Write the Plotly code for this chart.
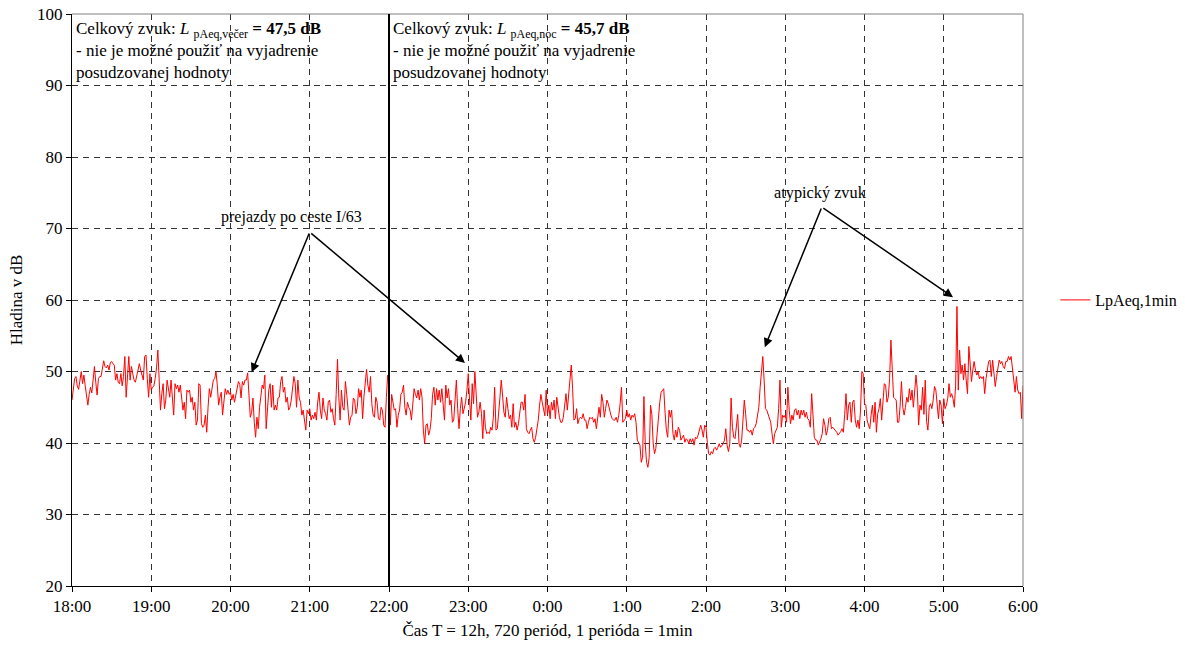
import numpy as np
import plotly.graph_objects as go

# LpAeq,1min values (dB), one per minute from 18:00 to 6:00, split into time ranges
lpaeq_1800_1912 = [
    46, 48, 49, 49.3, 48, 47.5, 48.5, 50, 48.3, 49.5,
    48, 46.5, 45.3, 46.8, 47.8, 47, 49.5, 50.7, 48.5, 46.7,
    49, 49.3, 49.3, 50.4, 51.5, 50.7, 50.5, 50.9, 50.2, 51.2,
    51.4, 51.1, 50.9, 48.8, 49.7, 48.5, 48.3, 49.7, 48, 49.3,
    52.1, 46.4, 50, 52.1, 48.8, 50.7, 49.7, 48.8, 48.5, 49.3,
    50, 51.1, 50.2, 49.5, 48.8, 52.1, 52.3, 49, 46.4, 49.7,
    47.4, 47.8, 48, 49, 50.5, 53, 48, 44.6, 46.9, 48.3,
    44.8, 46, 48.8]
lpaeq_1913_2021 = [
    47.6, 46.4, 48.8, 46, 43.9, 48.3, 47.6, 48.1, 47.1, 48.1,
    46, 44.6, 45.7, 43.4, 47.4, 47.1, 47.4, 45.7, 46.4, 44.6,
    45.7, 42.5, 43.2, 48.3, 48.1, 42.7, 42.2, 42.5, 43.9, 41.5,
    45, 47.6, 46.4, 48, 48.8, 49, 50, 48.1, 45.3, 46.4,
    47.1, 43.9, 46, 47.6, 46.8, 47.4, 46.8, 47.1, 46, 46.8,
    45.7, 46.8, 47.8, 48.6, 48.2, 46.3, 48.6, 48.1, 48.8, 48.8,
    49.8, 46, 43.6, 44.3, 46.3, 42.9, 40.8, 43.6, 42]
lpaeq_2022_2136 = [
    45, 46.4, 48.1, 47.6, 49.5, 42, 45.7, 47.4, 48.3, 45,
    48.1, 44.6, 45.3, 44.6, 46.3, 46.4, 48.6, 49.3, 47.1, 47.8,
    45.7, 46.4, 44.6, 45, 46, 47.4, 49.3, 48.3, 45, 48.8,
    46.3, 45.7, 43.9, 44.6, 43.4, 41.8, 44.6, 44.1, 44.8, 43.2,
    43.9, 43.4, 44.3, 43.2, 45.7, 47.1, 44.6, 43.4, 46.3, 44.6,
    44.1, 43.2, 45.7, 46, 44.3, 44.8, 43.4, 42.5, 46.8, 51.7,
    46.4, 43.2, 47.4, 45, 44.6, 48.6, 46.8, 45, 42.5, 43.6,
    43.9, 46.3, 46, 44.1, 45]
lpaeq_2137_2248 = [
    47.6, 46.4, 47.4, 43.4, 46.4, 48.8, 50.3, 48.1, 47.1, 49.3,
    45.5, 43.9, 43.6, 46.4, 45.7, 43.4, 43.2, 45, 44.6, 42.5,
    42.2, 46.4, 49.5, 47.6, 42.5, 46.8, 45.5, 44.6, 44.8, 42.2,
    43.9, 44.6, 46.8, 47.1, 48.1, 45, 43.9, 45.7, 45, 44.6,
    43.2, 45.7, 47.6, 46.8, 46.3, 47.4, 46, 47.6, 46.4, 41.8,
    39.9, 42.5, 42.7, 41.1, 41.8, 43.4, 46.8, 47.8, 45.3, 47.6,
    46, 47.4, 45.7, 47.6, 45, 43.2, 48.1, 46.3, 47.6, 45.3,
    46, 42.9]
lpaeq_2249_2359 = [
    43.2, 47.1, 48.8, 44.8, 42, 44.8, 46.4, 44.1, 44.8, 45.7,
    47.4, 49.7, 46, 43.2, 48.3, 45.5, 50, 47.4, 43.6, 44.3,
    45.7, 44.1, 40.6, 44.6, 42.2, 41.3, 41.5, 41.3, 42.2, 41.8,
    43.6, 47.8, 41.8, 42, 43.9, 46.4, 48.8, 45.7, 44.3, 43.6,
    46.4, 44.8, 43.4, 43.9, 42.2, 45.5, 42.2, 42.9, 41.8, 42.7,
    44.6, 45.7, 45.7, 44.6, 46.8, 42, 41.5, 41.3, 41.8, 42.2,
    40.6, 40.1, 40.8, 41.8, 43.2, 45.3, 46.8, 45.7, 44.6, 43.8,
    47.4]
lpaeq_0000_0112 = [
    44, 45.3, 43.4, 45.7, 44.6, 46, 43.4, 46.4, 44.8, 43.6,
    42.9, 42.9, 43.6, 45, 46.9, 44.6, 47.1, 49.7, 50.9, 47.6,
    43.2, 43.4, 44.8, 42.7, 43.4, 43.6, 43.4, 44.1, 43.2, 43.2,
    42, 42.9, 43.6, 43.4, 43.6, 42.9, 43.4, 42, 43.9, 45,
    43.6, 46.8, 45.7, 43.6, 44.8, 46, 45.5, 44.6, 43.9, 43.4,
    43.2, 43.2, 43.6, 42.9, 43.9, 45.5, 47.8, 42.9, 43.2, 43.4,
    44.6, 43.6, 44.1, 43.2, 43.9, 43.6, 44.1, 42.9, 40.4, 39.9,
    39.7, 37.3, 38]
lpaeq_0113_0224 = [
    46.5, 39.9, 37.3, 36.6, 38, 45.3, 44, 40, 38.5, 39.2,
    41.3, 43.9, 45.7, 47.1, 47.4, 47.6, 44.3, 41.8, 40.8, 44.6,
    43.6, 44.6, 41.3, 40.4, 41.8, 40.8, 42.2, 41.8, 40.4, 40.8,
    41.1, 40.1, 40.6, 40.4, 39.9, 40.6, 40.1, 40.6, 39.7, 40.8,
    40.6, 41.1, 41.8, 42.5, 41.8, 40.8, 42.5, 42.2, 40.1, 38.5,
    38.3, 38.8, 38.5, 39.2, 39.4, 39, 39.4, 39.9, 39.4, 39.7,
    39.9, 40.4, 42, 39.7, 38.8, 39.9, 46.3, 42.2, 40.8, 40.6,
    42, 44]
lpaeq_0225_0336 = [
    39.9, 39.4, 40.4, 43, 46, 44.1, 41.8, 41.8, 41.5, 41.8,
    41.1, 42, 42.2, 42.7, 43.6, 45, 47.8, 50.2, 52.1, 48.8,
    44.8, 44.6, 43.9, 43.6, 42.9, 41.3, 39.9, 41.3, 41.8, 42.2,
    44.8, 48.8, 42.2, 43.9, 43.6, 43.9, 42.9, 47.8, 44.6, 42.7,
    43.9, 43.2, 44.6, 44.8, 43.9, 44.6, 43.4, 44.6, 43.9, 44.6,
    43.6, 44.3, 43.4, 43.2, 42.2, 46.9, 43.9, 40.8, 40.4, 40.4,
    39.7, 40.1, 40.6, 41.3, 43.4, 42.5, 41.1, 41.8, 43.4, 43.6,
    42, 42.2]
lpaeq_0337_0448 = [
    42, 41.8, 41.5, 41.1, 41.3, 41.6, 42, 41.5, 44, 46.9,
    43.2, 45.3, 45.7, 42.9, 45.7, 46, 43.2, 42.2, 43.2, 42,
    44.6, 50, 49.7, 45.5, 45.3, 43.2, 42.5, 42, 43.9, 45.3,
    42.9, 45.7, 41.5, 44.1, 44.8, 46.2, 43.2, 46, 48.3, 48.1,
    45.7, 46.4, 49, 54.4, 50.7, 46.4, 46.2, 46, 42.9, 42.9,
    45.3, 48.6, 45, 43.9, 45, 46.4, 45.7, 47.6, 46, 47.4,
    45, 46.9, 49.5, 47.4, 42.5, 45.3, 44.6, 47.8, 44, 48.8,
    43, 41.8]
lpaeq_0449_0600 = [
    45, 45.5, 44.8, 46, 47.9, 47.4, 45.3, 43.4, 46, 45.3,
    42.7, 46.2, 44.8, 45.3, 46.2, 48.3, 46.4, 46.9, 46.2, 45,
    48.1, 59.1, 47.4, 53, 49.7, 50.9, 48.8, 51.1, 48.8, 46.9,
    53.5, 50.9, 48.6, 50.2, 51.4, 50.2, 49.5, 50, 49, 49.3,
    49, 49.3, 46.9, 49, 50, 51.4, 51.6, 49.3, 51.6, 50,
    47.9, 49.3, 50.9, 51.6, 51.1, 51.4, 50.7, 50.4, 51.4, 51.4,
    52.1, 51.6, 52.1, 50.7, 48.8, 47.1, 49.3, 47.4, 46.9, 47.1,
    43.4, 48]

tick_labels = ["18:00", "19:00", "20:00", "21:00", "22:00", "23:00", "0:00",
               "1:00", "2:00", "3:00", "4:00", "5:00", "6:00"]
series_name = "LpAeq,1min"

values = (lpaeq_1800_1912 + lpaeq_1913_2021 + lpaeq_2022_2136 + lpaeq_2137_2248
          + lpaeq_2249_2359 + lpaeq_0000_0112 + lpaeq_0113_0224 + lpaeq_0225_0336
          + lpaeq_0337_0448 + lpaeq_0449_0600)
minutes = np.arange(len(values))
tick_vals = [60 * i for i in range(len(tick_labels))]

FONT = "Liberation Serif"

fig = go.Figure()
fig.add_trace(go.Scatter(x=minutes, y=values, mode="lines", name=series_name,
                         line=dict(color="#ff0000", width=1)))

grid_dash = "6px,5px"
fig.update_layout(
    width=1185, height=646,
    margin=dict(l=72, r=162, t=14, b=60, autoexpand=False),
    paper_bgcolor="white", plot_bgcolor="white",
    font=dict(family=FONT, size=17, color="black"),
    showlegend=True,
    legend=dict(x=1.034, y=0.5, xanchor="left", yanchor="middle",
                font=dict(family=FONT, size=16), bgcolor="rgba(0,0,0,0)"),
    xaxis=dict(range=[0, 720], tickvals=tick_vals, ticktext=tick_labels,
               showgrid=True, gridcolor="#333333", gridwidth=1, griddash=grid_dash,
               showline=True, linecolor="black", linewidth=1,
               ticks="outside", ticklen=5, tickcolor="black", automargin=False,
               tickfont=dict(family=FONT, size=17), zeroline=False,
               ticklabeloverflow="allow",
               title=dict(text="Čas T = 12h, 720 periód, 1 perióda = 1min",
                          font=dict(family=FONT, size=17), standoff=8)),
    yaxis=dict(range=[20, 100], dtick=10,
               showgrid=True, gridcolor="#333333", gridwidth=1, griddash=grid_dash,
               showline=True, linecolor="black", linewidth=1,
               ticks="outside", ticklen=5, tickcolor="black", automargin=False,
               tickfont=dict(family=FONT, size=17), zeroline=False,
               ticklabeloverflow="allow",
               title=dict(text="Hladina v dB", font=dict(family=FONT, size=17),
                          standoff=10)),
)

# border top/right
fig.add_shape(type="line", xref="paper", yref="paper", x0=0, x1=1, y0=1, y1=1,
              line=dict(color="#808080", width=1))
fig.add_shape(type="line", xref="paper", yref="paper", x0=1, x1=1, y0=0, y1=1,
              line=dict(color="#808080", width=1))
# separator evening / night at 22:00
fig.add_shape(type="line", xref="x", yref="y", x0=240, x1=240, y0=20, y1=100,
              line=dict(color="black", width=2))

ann_font = dict(family=FONT, size=17, color="black")
fig.add_annotation(xref="x", yref="paper", x=1.5, y=0.995, xanchor="left", yanchor="top",
                   align="left", showarrow=False, font=ann_font,
                   text="Celkový zvuk: <i>L</i> <sub>pAeq,večer</sub> <b>= 47,5 dB</b><br>"
                        "- nie je možné použiť na vyjadrenie<br>posudzovanej hodnoty")
fig.add_annotation(xref="x", yref="paper", x=241.5, y=0.995, xanchor="left", yanchor="top",
                   align="left", showarrow=False, font=ann_font,
                   text="Celkový zvuk: <i>L</i> <sub>pAeq,noc</sub> <b>= 45,7 dB</b><br>"
                        "- nie je možné použiť na vyjadrenie<br>posudzovanej hodnoty")

fig.add_annotation(x=166, y=71.6, xref="x", yref="y", showarrow=False,
                   text="prejazdy po ceste I/63", font=dict(family=FONT, size=16))
fig.add_annotation(x=567, y=75.1, xref="x", yref="y", showarrow=False,
                   text="atypický zvuk", font=dict(family=FONT, size=16.3))

arrows = [((180, 69.5), (136, 49.9)), ((180, 69.5), (297.5, 51.2)),
          ((567.7, 73.0), (524.5, 53.4)), ((567.7, 73.0), (667, 60.4))]
for (tx, ty), (hx, hy) in arrows:
    fig.add_annotation(x=hx, y=hy, ax=tx, ay=ty, xref="x", yref="y",
                       axref="x", ayref="y", text="", showarrow=True,
                       arrowhead=2, arrowsize=1.2, arrowwidth=1.5, arrowcolor="black")

# remove the default page margin so the figure fills the window exactly
fig.write_html("out.html", config={"displayModeBar": False},
               post_script="document.body.style.margin='0';document.body.style.overflow='hidden';")
